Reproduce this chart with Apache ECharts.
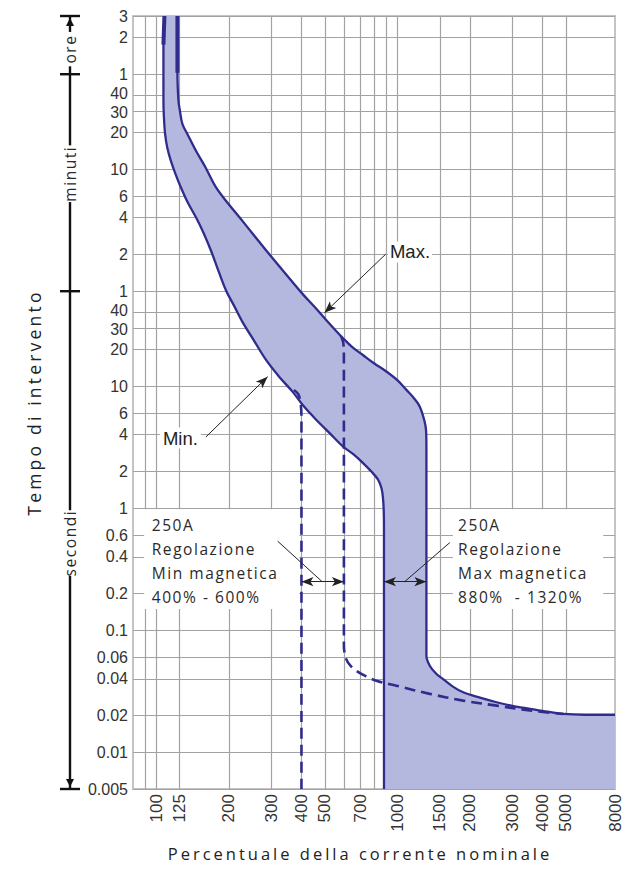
<!DOCTYPE html>
<html>
<head>
<meta charset="utf-8">
<script src="https://cdn.jsdelivr.net/npm/echarts@6/dist/echarts.min.js"></script>
<style>
html,body{margin:0;padding:0;background:#fff;}
#chart{width:636px;height:869px;}
#chart svg text[style*="16.5px"]{letter-spacing:3.0px;}
#chart svg text[style*="17.5px"]{letter-spacing:3.2px;}
#chart svg text[style*="15.5px"]{letter-spacing:1.55px;}
</style>
</head>
<body>
<div id="chart"></div>
<script>
// ---- axis ticks / labels ----
const xLabelValues = [100, 125, 200, 300, 400, 500, 700, 1000, 1500, 2000, 3000, 4000, 5000, 8000];
const xGridValues = [90, 100, 125, 200, 300, 400, 500, 600, 700, 800, 900, 1000, 1500, 2000, 3000, 4000, 5000];
const yTickValues = [0.005, 0.01, 0.02, 0.04, 0.06, 0.1, 0.2, 0.4, 0.6, 1, 2, 4, 6, 10, 20, 30, 40,
  60, 120, 240, 360, 600, 1200, 1800, 2400, 3600, 7200, 10800];
const yTickLabels = ['0.005', '0.01', '0.02', '0.04', '0.06', '0.1', '0.2', '0.4', '0.6', '1', '2', '4', '6', '10', '20', '30', '40',
  '1', '2', '4', '6', '10', '20', '30', '40', '1', '2', '3'];
// labels that sit very close together get a small vertical nudge
const yLabelNudge = { 30: 'd', 40: 'u', 1800: 'd', 2400: 'u' };

// ---- curves: [percent of nominal current, trip time in seconds] ----
const minCurve = [[108, 10800], [107, 6300], [107, 3600], [107, 2200], [107.5, 1600], [108.7, 1170], [111, 900],
  [114.8, 706], [120, 550], [126.3, 427], [135, 320], [145.8, 243], [157, 180], [168.9, 127.5], [181, 88],
  [194.4, 61.2], [210.5, 45.3], [227.9, 33.5], [254.9, 23.4], [285.2, 16.4], [323.8, 11.9], [367.9, 8.98],
  [410, 6.8], [460.4, 5.31], [525, 4.1], [593.9, 3.21], [660, 2.75], [719.4, 2.35], [780, 2.0], [830.5, 1.72],
  [860, 1.45], [872, 1.2], [878, 0.95], [880, 0.7], [880, 0.005]];
const maxCurve = [[122.3, 10800], [122.3, 3700], [123.5, 2183], [125, 1850], [128.3, 1408], [135, 1150],
  [145.8, 853], [160, 620], [176.6, 427], [197, 320], [220.8, 243], [255, 171], [294.3, 120.5], [345, 82.7],
  [404.9, 56.8], [455, 44.3], [506.6, 34.8], [550, 29.1], [593.9, 24.8], [650, 20.9], [719.4, 18.0], [800, 15.4],
  [900, 13.2], [1000, 11.2], [1090, 9.33], [1170, 8.0], [1238, 6.81], [1295, 5.2], [1316, 4.3], [1320, 3.02],
  [1320, 0.0618], [1363, 0.0512], [1450, 0.044], [1548, 0.0398], [1700, 0.0345], [1875, 0.031], [2200, 0.028],
  [2581, 0.0257], [3000, 0.024], [3551, 0.0227], [4200, 0.0215], [4886, 0.0206], [6000, 0.0203], [8000, 0.0203]];
const minThickTop = [[108, 10800], [107, 6300]];
const maxThickTop = [[122.3, 10800], [122.3, 3700]];
const dash400 = [[372, 9.3], [388, 8.6], [397, 7.2], [400, 5.5], [400, 0.005]];
const dash600 = [[583, 25.8], [597, 22.5], [600, 17], [600, 0.0746], [613.6, 0.058], [640, 0.051], [675.3, 0.0466],
  [740, 0.042], [817.6, 0.0386], [990, 0.0351], [1363, 0.0301], [1875, 0.0265], [2581, 0.0241], [3551, 0.022],
  [4886, 0.0206]];
const bandCorner = [8000, 0.005];

// ---- annotations (data coordinates) ----
const maxLeader = [[894, 120.5], [498.5, 39.9]];
const minLeader = [[160.5, 3.83], [289.5, 11.97]];
const leftLeader = [[318.6, 0.537], [487.5, 0.25]];
const rightLeader = [[1650, 0.522], [1072, 0.25]];
const leftRange = [[400, 0.25], [600, 0.25]];
const rightRange = [[880, 0.25], [1320, 0.25]];
const boxLeft = [[89, 0.98], [392, 0.149]];
const boxRight = [[1700, 0.98], [7150, 0.149]];
const boxTextLeftPos = [95.7, 0.905];
const boxTextRightPos = [1787, 0.905];
const boxTextLeft = ['250A', 'Regolazione', 'Min magnetica', '400% - 600%'];
const boxTextRight = ['250A', 'Regolazione', 'Max magnetica', '880%  - 1320%'];
const maxLabelPos = [914, 126];
const minLabelPos = [153, 3.76];
const timeBracket = [10800, 3600, 60, 0.005];
const timeUnits = ['ore', 'minuti', 'secondi'];

const LINE = '#302c8c';
const FILL = '#b4b7de';
const GRID = '#a2a2a2';
const SMOOTH = 0.35;
const TICKFONT = "'Liberation Sans Narrow', 'Liberation Sans', Arial, sans-serif";
const MYRIAD = "'Open Sans', 'Noto Sans', sans-serif";

function yLabel(v) {
  let best = 0, bd = Infinity;
  yTickValues.forEach((t, i) => {
    const d = Math.abs(Math.log10(t) - Math.log10(v));
    if (d < bd) { bd = d; best = i; }
  });
  const key = yLabelNudge[yTickValues[best]];
  return key ? '{' + key + '|' + yTickLabels[best] + '}' : yTickLabels[best];
}

// closed outline of the band; corner points are repeated so the smoothing keeps them sharp
const maxReversed = maxCurve.slice().reverse();
const bandPoints = [].concat(
  [minCurve[0]], minCurve, [minCurve[minCurve.length - 1]],
  [bandCorner, bandCorner],
  [maxReversed[0]], maxReversed, [maxReversed[maxReversed.length - 1]]
);

const chart = echarts.init(document.getElementById('chart'), null, { renderer: 'svg', width: 636, height: 869 });

const option = {
  animation: false,
  backgroundColor: '#fff',
  grid: { left: 133, right: 21, top: 16, bottom: 80, show: true, borderColor: '#c4c4c4', borderWidth: 2, backgroundColor: 'transparent' },
  xAxis: {
    type: 'log', logBase: 10, min: 80, max: 8000,
    axisLine: { show: false },
    axisTick: { show: false, customValues: xGridValues },
    splitLine: { show: true, lineStyle: { color: GRID, width: 1.2 } },
    minorTick: { show: false }, minorSplitLine: { show: false },
    axisLabel: {
      customValues: xLabelValues, rotate: 90, margin: 5, color: '#333',
      fontSize: 17, fontFamily: TICKFONT,
      formatter: v => String(Math.round(v))
    },
    name: 'Percentuale della corrente nominale', nameLocation: 'middle', nameGap: 56,
    nameTextStyle: { fontFamily: MYRIAD, fontSize: 16.5, color: '#222', padding: [0, 28, 0, 0] }
  },
  yAxis: {
    type: 'log', logBase: 10, min: 0.005, max: 10800,
    axisLine: { show: false },
    axisTick: { show: false, customValues: yTickValues },
    splitLine: { show: true, lineStyle: { color: GRID, width: 1.2 } },
    minorTick: { show: false }, minorSplitLine: { show: false },
    axisLabel: {
      customValues: yTickValues, margin: 5, color: '#333',
      fontSize: 16, fontFamily: TICKFONT, formatter: yLabel,
      rich: {
        u: { fontSize: 16, fontFamily: TICKFONT, color: '#333', padding: [0, 0, 4, 0] },
        d: { fontSize: 16, fontFamily: TICKFONT, color: '#333', padding: [4, 0, 0, 0] }
      }
    },
    name: 'Tempo di intervento', nameLocation: 'middle', nameRotate: 90, nameGap: 90,
    nameTextStyle: { fontFamily: MYRIAD, fontSize: 17.5, color: '#222' }
  },
  series: [
    {
      type: 'custom', name: 'band', z: 2, silent: true,
      data: [minCurve[0]],
      renderItem: (params, api) => {
        const pts = bandPoints.map(p => api.coord(p));
        return { type: 'polygon', shape: { points: pts, smooth: SMOOTH }, style: { fill: FILL, stroke: 'none' } };
      }
    },
    { type: 'line', name: 'Min', data: minCurve, symbol: 'none', smooth: SMOOTH, z: 4, lineStyle: { color: LINE, width: 2.3 } },
    { type: 'line', name: 'Max', data: maxCurve, symbol: 'none', smooth: SMOOTH, z: 4, lineStyle: { color: LINE, width: 2.3 } },
    { type: 'line', name: 'MinTop', data: minThickTop, symbol: 'none', z: 4, lineStyle: { color: LINE, width: 4 } },
    { type: 'line', name: 'MaxTop', data: maxThickTop, symbol: 'none', z: 4, lineStyle: { color: LINE, width: 4 } },
    { type: 'line', name: '400%', data: dash400, symbol: 'none', smooth: SMOOTH, z: 3, lineStyle: { color: LINE, width: 2.6, type: [11, 6] } },
    { type: 'line', name: '600%', data: dash600, symbol: 'none', smooth: SMOOTH, z: 3, lineStyle: { color: LINE, width: 2.6, type: [11, 6] } },
    {
      type: 'line', name: 'annot', data: [], symbol: 'none', z: 6,
      markLine: {
        silent: true, animation: false, symbol: ['none', 'arrow'], symbolSize: [7, 12],
        label: { show: false }, emphasis: { disabled: true },
        lineStyle: { color: '#222', width: 1, type: 'solid' },
        data: [
          [{ coord: maxLeader[0] }, { coord: maxLeader[1] }],
          [{ coord: minLeader[0] }, { coord: minLeader[1] }],
          [{ coord: leftLeader[0], symbol: 'none' }, { coord: leftLeader[1], symbol: 'none' }],
          [{ coord: rightLeader[0], symbol: 'none' }, { coord: rightLeader[1], symbol: 'none' }],
          [{ coord: leftRange[0], symbol: 'arrow' }, { coord: leftRange[1], symbol: 'arrow' }],
          [{ coord: rightRange[0], symbol: 'arrow' }, { coord: rightRange[1], symbol: 'arrow' }]
        ]
      }
    }
  ]
};
chart.setOption(option);

function P(pt) { return chart.convertToPixel({ gridIndex: 0 }, pt); }
function Y(v) { return chart.convertToPixel({ yAxisIndex: 0 }, v); }

function buildGraphics() {
  const g = [];
  [boxLeft, boxRight].forEach(b => {
    const a = P(b[0]), c = P(b[1]);
    g.push({ type: 'rect', z: 1, silent: true, shape: { x: a[0], y: a[1], width: c[0] - a[0], height: c[1] - a[1] }, style: { fill: '#fff' } });
  });
  [[boxTextLeftPos, boxTextLeft], [boxTextRightPos, boxTextRight]].forEach(([pos, lines]) => {
    const p = P(pos);
    g.push({ type: 'text', z: 10, silent: true, x: p[0], y: p[1],
      style: { text: lines.join('\n'), fill: '#2a2a2a', fontFamily: MYRIAD, fontSize: 15.5, lineHeight: 24, align: 'left', verticalAlign: 'top' } });
  });
  const mx = P(maxLabelPos), mn = P(minLabelPos);
  g.push({ type: 'text', z: 10, silent: true, x: mx[0], y: mx[1],
    style: { text: 'Max.', fill: '#222', fontFamily: "'Liberation Sans', Arial, sans-serif", fontSize: 18.5, align: 'left', verticalAlign: 'middle', backgroundColor: '#fff', padding: [1, 2] } });
  g.push({ type: 'text', z: 10, silent: true, x: mn[0], y: mn[1],
    style: { text: 'Min.', fill: '#222', fontFamily: "'Liberation Sans', Arial, sans-serif", fontSize: 18.5, align: 'right', verticalAlign: 'middle', backgroundColor: '#fff', padding: [1, 3] } });

  // time-unit bracket on the left
  const bx = 70;
  const ys = timeBracket.map(Y);
  g.push({ type: 'line', z: 5, silent: true, shape: { x1: bx, y1: ys[0], x2: bx, y2: ys[3] }, style: { stroke: '#111', lineWidth: 2.4 } });
  ys.forEach(y => g.push({ type: 'line', z: 5, silent: true, shape: { x1: bx - 10, y1: y, x2: bx + 10, y2: y }, style: { stroke: '#111', lineWidth: 2.4 } }));
  g.push({ type: 'polygon', z: 6, silent: true, shape: { points: [[bx, ys[0] + 2], [bx - 4, ys[0] + 10], [bx + 4, ys[0] + 10]] }, style: { fill: '#111' } });
  g.push({ type: 'polygon', z: 6, silent: true, shape: { points: [[bx, ys[3] - 2], [bx - 4, ys[3] - 10], [bx + 4, ys[3] - 10]] }, style: { fill: '#111' } });
  const offs = [4, -9, 3];
  timeUnits.forEach((t, i) => {
    const cy = (ys[i] + ys[i + 1]) / 2 + offs[i];
    g.push({ type: 'text', z: 7, silent: true, x: bx, y: cy, rotation: Math.PI / 2,
      style: { text: t, fill: '#2a2a2a', fontFamily: MYRIAD, fontSize: 15.5, align: 'center', verticalAlign: 'middle', backgroundColor: '#fff', padding: [0, 5] } });
  });
  return g;
}
chart.setOption({ graphic: buildGraphics() });
</script>
</body>
</html>
